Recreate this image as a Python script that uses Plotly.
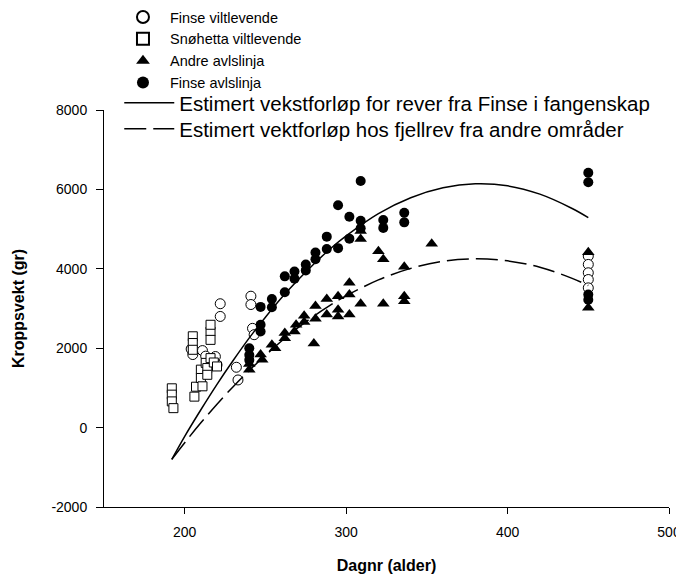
import plotly.graph_objects as go

# ---- data ----
finse_vilt_x = [204, 205, 211, 213, 219, 220, 222, 222, 232, 233, 241, 241, 242, 243,
                450, 450, 450, 450, 450]
finse_vilt_y = [1980, 1840, 1940, 1800, 1790, 1580, 3120, 2800, 1520, 1200, 3310, 3100, 2500, 2340,
                4320, 4110, 3900, 3730, 3520]

snohetta_x = [192, 192, 192, 193, 205, 205, 205, 206, 207, 210, 210, 211, 213, 214, 214,
              216, 216, 216, 216, 218, 220]
snohetta_y = [990, 830, 660, 490, 2300, 2130, 1960, 780, 1030, 1460, 1250, 1040, 1630, 1500, 1330,
              1750, 2420, 2590, 2210, 1640, 1540]

andre_x = [240, 240, 247, 248, 254, 256, 262, 262, 268, 269, 274, 274, 280, 281, 281,
           288, 288, 295, 295, 295, 302, 302, 302, 309, 309, 309, 320, 323, 323,
           336, 336, 336, 353, 450, 450]
andre_y = [1460, 1600, 1840, 1710, 2090, 2000, 2380, 2250, 2420, 2590, 2820, 2660, 2120, 3060, 2740,
           3240, 2850, 3310, 2970, 2800, 3650, 3350, 2850, 4950, 4750, 3120, 4440, 4240, 3120,
           4050, 3310, 3180, 4630, 4420, 3020]

finse_avl_x = [240, 240, 240, 247, 247, 247, 254, 254, 262, 262, 268, 268, 275, 275,
               281, 281, 288, 288, 295, 295, 302, 302, 309, 309, 309, 323, 323, 336, 336,
               450, 450, 450, 450]
finse_avl_y = [2000, 1830, 1700, 3040, 2590, 2420, 3240, 3030, 3810, 3410, 3930, 3750, 4110, 3960,
               4410, 4240, 4810, 4500, 5600, 4520, 5310, 4760, 6210, 5210, 5020, 5230, 5030, 5410, 5170,
               6420, 6180, 3350, 3220]

# estimated growth curves
curve_x = [192, 200, 210, 220, 230, 240, 250, 260, 270, 280, 290, 300, 320, 340, 360, 380,
           400, 420, 440, 450]
finse_curve_y = [-800, -220, 450, 1090, 1690, 2260, 2780, 3270, 3710, 4120, 4500, 4830,
                 5390, 5790, 6040, 6140, 6090, 5880, 5520, 5290]
andre_curve_y = [-800, -380, 120, 590, 1030, 1440, 1820, 2180, 2510, 2810, 3080, 3320,
                 3720, 4010, 4190, 4250, 4200, 4040, 3760, 3580]

x_ticks = [200, 300, 400, 500]
y_ticks = [-2000, 0, 2000, 4000, 6000, 8000]
y_tick_labels = ["-2000", "0", "2000", "4000", "6000", "8000"]

FONT = "Arial, Liberation Sans, sans-serif"

fig = go.Figure()

fig.add_trace(go.Scatter(
    x=finse_vilt_x, y=finse_vilt_y, mode="markers", name="Finse viltlevende",
    marker=dict(symbol="circle", size=10, color="white", line=dict(color="black", width=1)),
    legend="legend"))
fig.add_trace(go.Scatter(
    x=snohetta_x, y=snohetta_y, mode="markers", name="Snøhetta viltlevende",
    marker=dict(symbol="square", size=9, color="white", line=dict(color="black", width=1)),
    legend="legend"))
fig.add_trace(go.Scatter(
    x=andre_x, y=andre_y, mode="markers", name="Andre avlslinja",
    marker=dict(symbol="triangle-up", size=11, color="black", line=dict(color="black", width=0)),
    legend="legend"))
fig.add_trace(go.Scatter(
    x=finse_avl_x, y=finse_avl_y, mode="markers", name="Finse avlslinja",
    marker=dict(symbol="circle", size=10, color="black", line=dict(color="black", width=0)),
    legend="legend"))

fig.add_trace(go.Scatter(
    x=curve_x, y=finse_curve_y, mode="lines", line_shape="spline",
    name="Estimert vekstforløp for rever fra Finse i fangenskap",
    line=dict(color="black", width=1.5), legend="legend2"))
fig.add_trace(go.Scatter(
    x=curve_x, y=andre_curve_y, mode="lines", line_shape="spline",
    name="Estimert vektforløp hos fjellrev fra andre områder",
    line=dict(color="black", width=1.5, dash="22px,7px"), legend="legend3"))

line_legend = dict(xanchor="left", yanchor="top",
                   font=dict(family=FONT, size=20.5, color="black"),
                   bgcolor="rgba(0,0,0,0)", itemwidth=50)

# the page body has an 8px margin, so the figure is sized to fill the rest of the window
fig.update_layout(
    width=676, height=570,
    margin=dict(l=96, r=15, t=102, b=71, autoexpand=False),
    paper_bgcolor="white", plot_bgcolor="white",
    font=dict(family=FONT, color="black", size=14),
    showlegend=True,
    legend=dict(x=0.0212, y=1.2745, xanchor="left", yanchor="top",
                font=dict(family=FONT, size=14.5, color="black"),
                bgcolor="rgba(0,0,0,0)", tracegroupgap=0, itemsizing="constant",
                itemwidth=44),
    legend2=dict(x=0.027, y=1.068, **line_legend),
    legend3=dict(x=0.027, y=1.0025, **line_legend),
    xaxis=dict(range=[150, 500], tickvals=x_ticks, showgrid=False, zeroline=False,
               showline=True, linecolor="black", linewidth=1,
               ticks="outside", ticklen=6, tickcolor="black", tickwidth=1,
               ticklabelstandoff=6,
               tickfont=dict(family=FONT, size=14, color="black"),
               title=dict(text="<b>Dagnr (alder)</b>", font=dict(family=FONT, size=16, color="black"),
                          standoff=21)),
    yaxis=dict(range=[-2000, 8000], tickvals=y_ticks, ticktext=y_tick_labels,
               showgrid=False, zeroline=False,
               showline=True, linecolor="black", linewidth=1,
               ticks="outside", ticklen=7, tickcolor="black", tickwidth=1,
               ticklabelstandoff=6,
               tickfont=dict(family=FONT, size=14, color="black"),
               title=dict(text="<b>Kroppsvekt (gr)</b>", font=dict(family=FONT, size=16, color="black"),
                          standoff=22)),
)

fig.write_html("out.html")
